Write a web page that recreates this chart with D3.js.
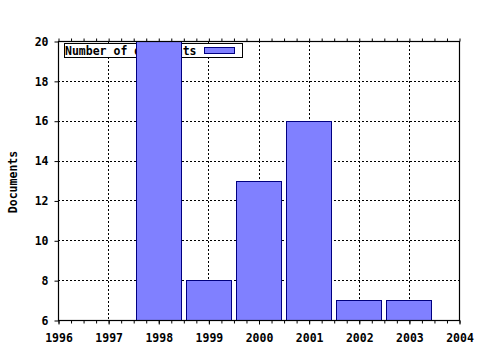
<!DOCTYPE html>
<html><head><meta charset="utf-8">
<script src="https://cdn.jsdelivr.net/npm/d3@7/dist/d3.min.js"></script>
<style>
body{margin:0;background:#fff;}
text{font-family:"DejaVu Sans Mono",monospace;font-weight:bold;font-size:11.5px;fill:#000;}
</style></head>
<body>
<svg id="c" width="480" height="350"></svg>
<script>
const years = [1998, 1999, 2000, 2001, 2002, 2003];
const documents = [20, 8, 13, 16, 7, 7];
const xTicks = [1996, 1997, 1998, 1999, 2000, 2001, 2002, 2003, 2004];
const yTicks = [6, 8, 10, 12, 14, 16, 18, 20];
const seriesName = "Number of documents";
const yTitle = "Documents";

const svg = d3.select("#c");
const L = 58, R = 459, T = 41, B = 320;
const x = d3.scaleLinear().domain([1996, 2004]).range([L, R]);
const y = d3.scaleLinear().domain([6, 20]).range([B, T]);

// grid
const g = svg.append("g").attr("stroke", "#000").attr("stroke-dasharray", "2,2").attr("stroke-width", 1);
xTicks.filter(t => t > 1996 && t < 2004).forEach(t => {
  g.append("line").attr("x1", Math.round(x(t)) + 0.5).attr("x2", Math.round(x(t)) + 0.5).attr("y1", T).attr("y2", B);
});
yTicks.filter(t => t > 6 && t < 20).forEach(t => {
  g.append("line").attr("x1", L).attr("x2", R).attr("y1", Math.round(y(t)) + 0.5).attr("y2", Math.round(y(t)) + 0.5);
});

// legend
const lg = svg.append("g");
lg.append("rect").attr("x", 64.5).attr("y", 43.5).attr("width", 178).attr("height", 14)
  .attr("fill", "#fff").attr("stroke", "#000");
lg.append("text").attr("x", 65).attr("y", 54.5).text(seriesName);
lg.append("rect").attr("x", 204.5).attr("y", 47.5).attr("width", 30).attr("height", 6)
  .attr("fill", "#8080ff").attr("stroke", "#000080");

// bars
svg.append("g").selectAll("rect").data(years).join("rect")
  .attr("x", (d) => Math.round(x(d - 0.45)) + 0.5)
  .attr("width", (d) => Math.round(x(d + 0.45)) - Math.round(x(d - 0.45)))
  .attr("y", (d, i) => Math.round(y(documents[i])) + 0.5)
  .attr("height", (d, i) => B - Math.round(y(documents[i])))
  .attr("fill", "#8080ff").attr("stroke", "#000080").attr("stroke-width", 1);

// frame
svg.append("rect").attr("x", L + 0.5).attr("y", T + 0.5).attr("width", R - L).attr("height", B - T)
  .attr("fill", "none").attr("stroke", "#000").attr("stroke-width", 1.2);

// x axis bottom
const minor = d3.range(1996, 2004.001, 0.25);
const xb = svg.append("g").attr("transform", `translate(0.5,${B + 0.5})`)
  .call(d3.axisBottom(x).tickValues(minor).tickSize(3).tickFormat(""));
xb.select(".domain").remove();
const xl = svg.append("g").attr("transform", `translate(0.5,${B + 0.5})`)
  .call(d3.axisBottom(x).tickValues(xTicks).tickSize(4).tickPadding(9).tickFormat(d3.format("d")));
xl.select(".domain").remove();
xl.selectAll("text").attr("font-size", null).attr("font-family", null);
// top minor ticks
const xt = svg.append("g").attr("transform", `translate(0.5,${T + 0.5})`)
  .call(d3.axisTop(x).tickValues(minor).tickSize(3).tickFormat(""));
xt.select(".domain").remove();

// y axis
const ya = svg.append("g").attr("transform", `translate(${L + 0.5},0.5)`)
  .call(d3.axisLeft(y).tickValues(yTicks).tickSize(4).tickPadding(6).tickFormat(d3.format("d")));
ya.select(".domain").remove();
ya.selectAll("text").attr("font-size", null).attr("font-family", null);

// y title
svg.append("text").attr("transform", "translate(17,182) rotate(-90)").attr("text-anchor", "middle").text(yTitle);
</script>
</body></html>
